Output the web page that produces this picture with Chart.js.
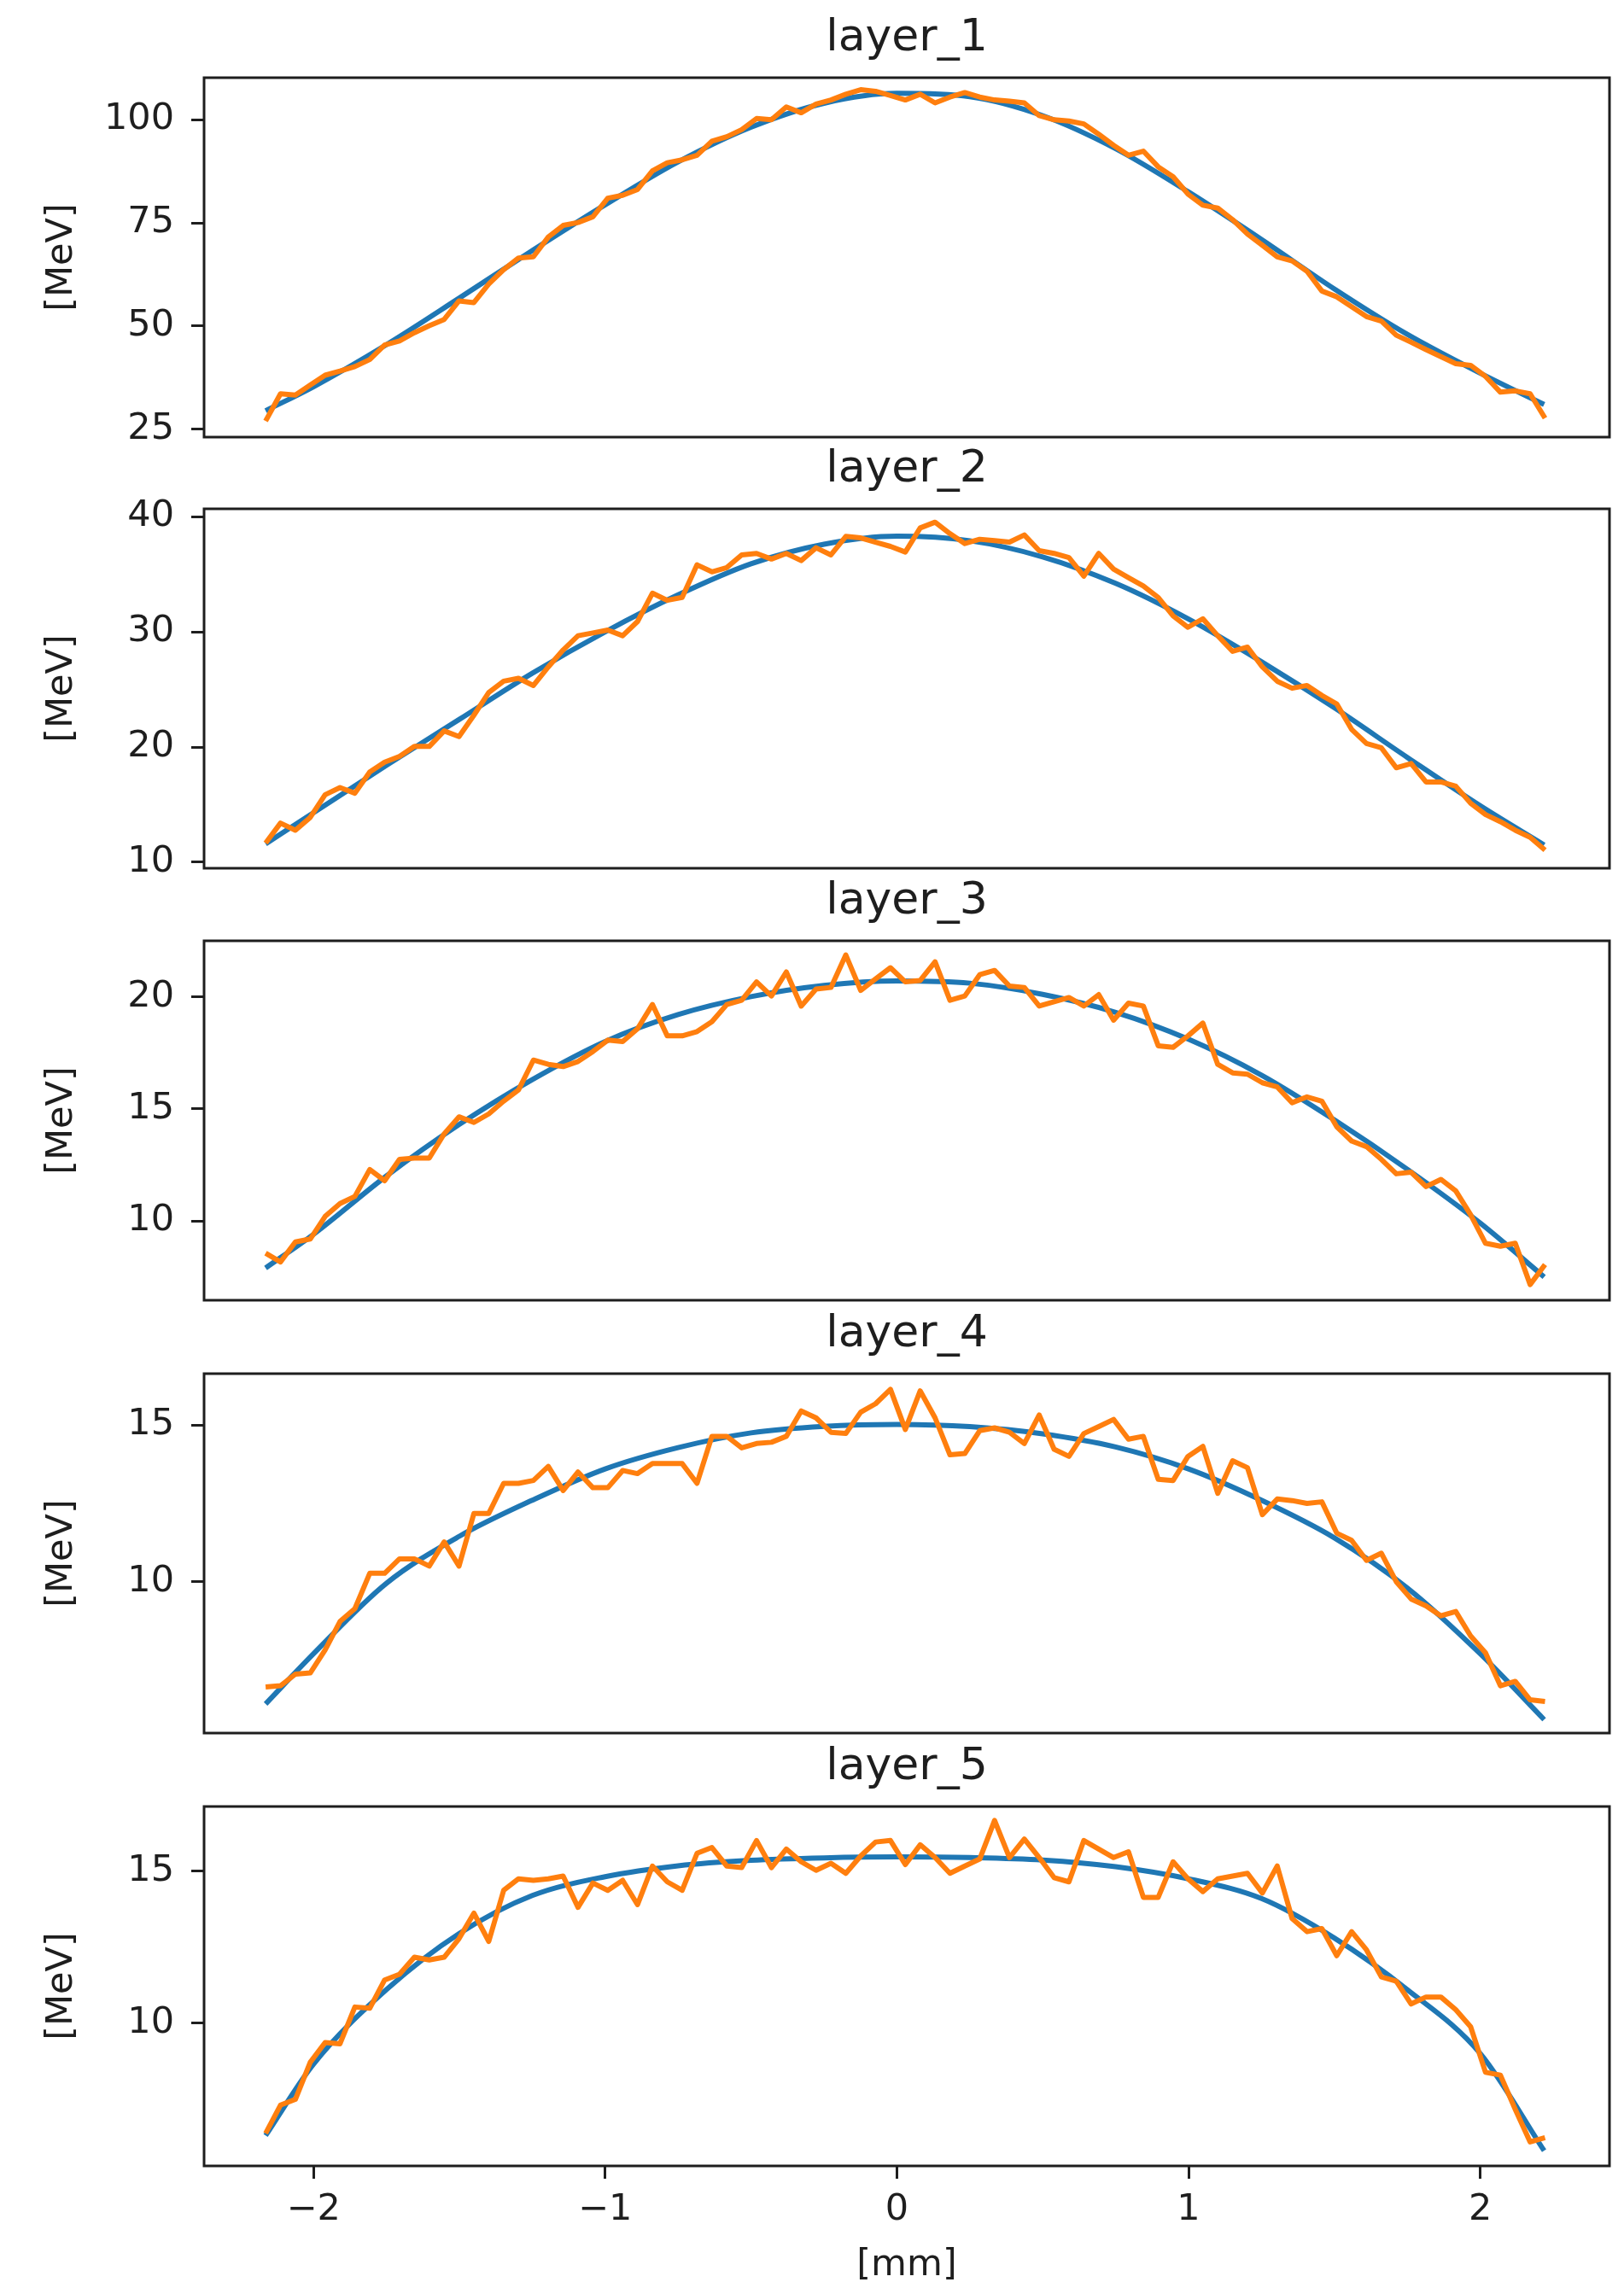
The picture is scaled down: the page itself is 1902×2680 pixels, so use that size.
<!DOCTYPE html>
<html>
<head>
  <title>Layer profiles</title>
  <script src="https://cdn.jsdelivr.net/npm/chart.js"></script>
  <style>
    body {
      margin: 0;
      background: #fff;
    }

    #wrap {
      position: relative;
      width: 1902px;
      height: 2680px;
    }

    canvas {
      position: absolute;
      left: 0;
    }
  </style>
</head>
<body>
  <div id="wrap"></div>

  <script>
    // measured profile: one sample every X_STEP mm starting at X_START
    const X_START = -2.164;
    const X_STEP = 0.051;

    const LAYER_1 = [27.0, 33.6, 33.3, 35.7, 38.1, 39.1, 40.2, 41.9, 45.4, 46.4, 48.4, 50.1, 51.6, 56.1, 55.7, 60.2, 63.7, 66.5, 66.8, 71.6, 74.4, 75.1, 76.5, 81.0, 81.7, 83.1, 87.6, 89.6, 90.3, 91.4, 94.8, 95.9, 97.6, 100.3, 100.0, 103.1, 101.7, 103.8, 104.8, 106.2, 107.3, 106.9, 105.9, 104.8, 106.2, 104.1, 105.5, 106.6, 105.5, 104.8, 104.5, 104.1, 101.0, 100.0, 99.7, 99.0, 96.5, 93.8, 91.4, 92.4, 88.6, 86.2, 82.0, 79.3, 78.6, 75.8, 72.3, 69.6, 66.8, 65.8, 63.3, 58.5, 57.1, 54.7, 52.3, 51.2, 47.8, 46.1, 44.3, 42.6, 40.9, 40.5, 37.8, 34.0, 34.3, 33.6, 27.7];
    const LAYER_2 = [11.67, 13.40, 12.78, 13.89, 15.86, 16.48, 15.99, 17.83, 18.69, 19.19, 20.05, 20.05, 21.40, 20.91, 22.76, 24.73, 25.71, 25.96, 25.34, 26.95, 28.42, 29.66, 29.90, 30.15, 29.66, 30.89, 33.35, 32.73, 32.98, 35.81, 35.20, 35.57, 36.67, 36.80, 36.31, 36.80, 36.18, 37.29, 36.67, 38.28, 38.15, 37.78, 37.41, 36.92, 39.01, 39.51, 38.52, 37.66, 38.03, 37.91, 37.78, 38.40, 37.04, 36.80, 36.43, 34.83, 36.80, 35.44, 34.70, 33.97, 32.98, 31.38, 30.39, 31.13, 29.66, 28.30, 28.67, 26.95, 25.71, 25.10, 25.34, 24.48, 23.74, 21.53, 20.30, 19.93, 18.20, 18.57, 16.97, 16.97, 16.60, 15.12, 14.14, 13.52, 12.78, 12.17, 11.06];
    const LAYER_3 = [8.56, 8.17, 9.06, 9.19, 10.20, 10.77, 11.09, 12.29, 11.79, 12.74, 12.80, 12.80, 13.88, 14.64, 14.39, 14.77, 15.34, 15.84, 17.17, 16.98, 16.88, 17.11, 17.55, 18.06, 18.00, 18.57, 19.65, 18.25, 18.25, 18.44, 18.88, 19.65, 19.84, 20.66, 20.03, 21.10, 19.58, 20.34, 20.41, 21.86, 20.28, 20.79, 21.29, 20.66, 20.72, 21.55, 19.84, 20.03, 20.98, 21.17, 20.47, 20.41, 19.58, 19.77, 19.96, 19.58, 20.09, 18.95, 19.71, 19.58, 17.81, 17.74, 18.25, 18.82, 16.98, 16.60, 16.54, 16.16, 15.97, 15.27, 15.53, 15.34, 14.20, 13.56, 13.31, 12.74, 12.10, 12.17, 11.53, 11.85, 11.34, 10.27, 9.00, 8.87, 9.00, 7.16, 8.05];
    const LAYER_4 = [6.64, 6.68, 7.05, 7.09, 7.82, 8.73, 9.14, 10.27, 10.27, 10.73, 10.73, 10.50, 11.27, 10.50, 12.18, 12.18, 13.14, 13.14, 13.23, 13.68, 12.91, 13.50, 13.00, 13.00, 13.55, 13.45, 13.77, 13.77, 13.77, 13.14, 14.64, 14.64, 14.27, 14.41, 14.45, 14.64, 15.45, 15.23, 14.77, 14.73, 15.41, 15.68, 16.14, 14.86, 16.09, 15.23, 14.05, 14.09, 14.82, 14.91, 14.77, 14.41, 15.32, 14.23, 14.00, 14.73, 14.95, 15.18, 14.55, 14.64, 13.27, 13.23, 14.00, 14.32, 12.82, 13.86, 13.64, 12.14, 12.64, 12.59, 12.50, 12.55, 11.55, 11.32, 10.68, 10.91, 10.00, 9.45, 9.23, 8.91, 9.05, 8.27, 7.73, 6.68, 6.82, 6.23, 6.18];
    const LAYER_5 = [6.37, 7.30, 7.49, 8.71, 9.36, 9.32, 10.53, 10.49, 11.42, 11.61, 12.17, 12.08, 12.17, 12.78, 13.62, 12.69, 14.37, 14.75, 14.70, 14.75, 14.84, 13.81, 14.61, 14.37, 14.70, 13.90, 15.17, 14.65, 14.37, 15.59, 15.78, 15.17, 15.12, 16.01, 15.12, 15.73, 15.31, 15.03, 15.26, 14.93, 15.50, 15.96, 16.01, 15.22, 15.87, 15.45, 14.93, 15.17, 15.40, 16.67, 15.45, 16.06, 15.45, 14.79, 14.65, 16.01, 15.73, 15.45, 15.64, 14.14, 14.14, 15.31, 14.75, 14.33, 14.75, 14.84, 14.93, 14.28, 15.17, 13.44, 13.01, 13.11, 12.22, 13.01, 12.41, 11.52, 11.38, 10.63, 10.86, 10.86, 10.44, 9.88, 8.38, 8.29, 7.16, 6.09, 6.23];

    // fitted curves, read at these x positions [mm]
    const FIT_X = [-2.164, -2.0, -1.75, -1.5, -1.25, -1.0, -0.75, -0.5, -0.25, 0, 0.25, 0.5, 0.75, 1.0, 1.25, 1.5, 1.75, 2.0, 2.219];
    const FIT_1 = [29.5, 35.3, 45.5, 56.8, 68.3, 79.4, 89.8, 98.2, 104.0, 106.4, 105.6, 101.0, 93.0, 82.5, 71.0, 59.0, 48.0, 38.6, 31.0];
    const FIT_2 = [11.6, 14.3, 18.4, 22.4, 26.4, 30.0, 33.2, 35.9, 37.6, 38.3, 37.9, 36.5, 34.2, 31.1, 27.4, 23.4, 19.1, 14.9, 11.5];
    const FIT_3 = [7.9, 9.4, 12.0, 14.3, 16.3, 18.0, 19.2, 20.0, 20.5, 20.7, 20.6, 20.1, 19.3, 18.1, 16.5, 14.5, 12.3, 9.9, 7.5];
    const FIT_4 = [6.1, 7.7, 9.95, 11.45, 12.6, 13.6, 14.28, 14.75, 14.96, 15.02, 14.95, 14.72, 14.3, 13.6, 12.6, 11.4, 9.8, 7.7, 5.6];
    const FIT_5 = [6.3, 8.65, 11.1, 12.95, 14.2, 14.82, 15.18, 15.36, 15.44, 15.47, 15.45, 15.37, 15.15, 14.75, 14.1, 12.8, 11.1, 9.0, 5.8];

    const TITLES = ["layer_1", "layer_2", "layer_3", "layer_4", "layer_5"];
    const Y_TICKS = [[25, 50, 75, 100], [10, 20, 30, 40], [10, 15, 20], [10, 15], [10, 15]];
    const Y_MIN = [23.1, 9.48, 6.46, 5.17, 5.30];
    const Y_MAX = [110.2, 40.67, 22.49, 16.64, 17.13];
    const X_TICKS = [-2, -1, 0, 1, 2];
    const X_MIN = -2.375;
    const X_MAX = 2.443;

    const MEASURED = [LAYER_1, LAYER_2, LAYER_3, LAYER_4, LAYER_5];
    const FITS = [FIT_1, FIT_2, FIT_3, FIT_4, FIT_5];

    const INK = "#1e1e1e";
    const BLUE = "#1f77b4";
    const ORANGE = "#ff7f0e";

    Chart.defaults.font.family = "'DejaVu Sans', sans-serif";
    Chart.defaults.color = INK;

    // matplotlib style box around the axes
    const frame = {
      id: "frame",
      afterDatasetsDraw(chart) {
        const { ctx, chartArea: a } = chart;
        ctx.save();
        ctx.strokeStyle = INK;
        ctx.lineWidth = 3;
        ctx.strokeRect(a.left, a.top, a.right - a.left, a.bottom - a.top);
        ctx.restore();
      }
    };

    const fmt = v => (v < 0 ? "\u2212" + Math.abs(v) : String(v));

    const wrap = document.getElementById("wrap");
    const canvasTops = [0, 505, 1011, 1518, 2025];

    for (let k = 0; k < 5; k++) {
      const last = k === 4;
      const canvas = document.createElement("canvas");
      canvas.width = 1902;
      canvas.height = last ? 655 : 558;
      canvas.style.top = canvasTops[k] + "px";
      wrap.appendChild(canvas);

      const measured = MEASURED[k].map((v, i) => ({ x: X_START + i * X_STEP, y: v }));
      const fit = FITS[k].map((v, i) => ({ x: FIT_X[i], y: v }));

      new Chart(canvas, {
        type: "line",
        data: {
          datasets: [
            {
              data: measured,
              borderColor: ORANGE,
              borderWidth: 6,
              borderJoinStyle: "round",
              pointRadius: 0,
              tension: 0
            },
            {
              data: fit,
              borderColor: BLUE,
              borderWidth: 6,
              pointRadius: 0,
              cubicInterpolationMode: "monotone"
            }
          ]
        },
        options: {
          responsive: false,
          animation: false,
          events: [],
          layout: { padding: { left: 0, right: 17, top: 0, bottom: last ? 0 : 46 } },
          plugins: {
            legend: { display: false },
            tooltip: { enabled: false },
            title: {
              display: true,
              text: TITLES[k],
              fullSize: false,
              color: INK,
              font: { size: 52, weight: "normal" },
              padding: { top: 14, bottom: 14.6 }
            }
          },
          scales: {
            x: {
              type: "linear",
              min: X_MIN,
              max: X_MAX,
              display: last,
              afterBuildTicks: s => { s.ticks = X_TICKS.map(v => ({ value: v })); },
              afterFit: s => { s.height = last ? 143 : 0; },
              grid: { drawOnChartArea: false, tickLength: 15, tickWidth: 3, tickColor: INK },
              border: { display: false },
              ticks: { font: { size: 43 }, color: INK, padding: 11, maxRotation: 0, autoSkip: false, callback: fmt },
              title: { display: true, text: "[mm]", color: INK, font: { size: 43 }, padding: 0 }
            },
            y: {
              type: "linear",
              min: Y_MIN[k],
              max: Y_MAX[k],
              afterBuildTicks: s => { s.ticks = Y_TICKS[k].map(v => ({ value: v })); },
              afterFit: s => { s.width = 239; },
              grid: { drawOnChartArea: false, tickLength: 15, tickWidth: 3, tickColor: INK },
              border: { display: false },
              ticks: { font: { size: 43 }, color: INK, padding: 20, autoSkip: false, callback: fmt },
              title: { display: true, text: "[MeV]", color: INK, font: { size: 43 }, padding: { top: 47, bottom: 0 } }
            }
          }
        },
        plugins: [frame]
      });
    }
  </script>
</body>
</html>
